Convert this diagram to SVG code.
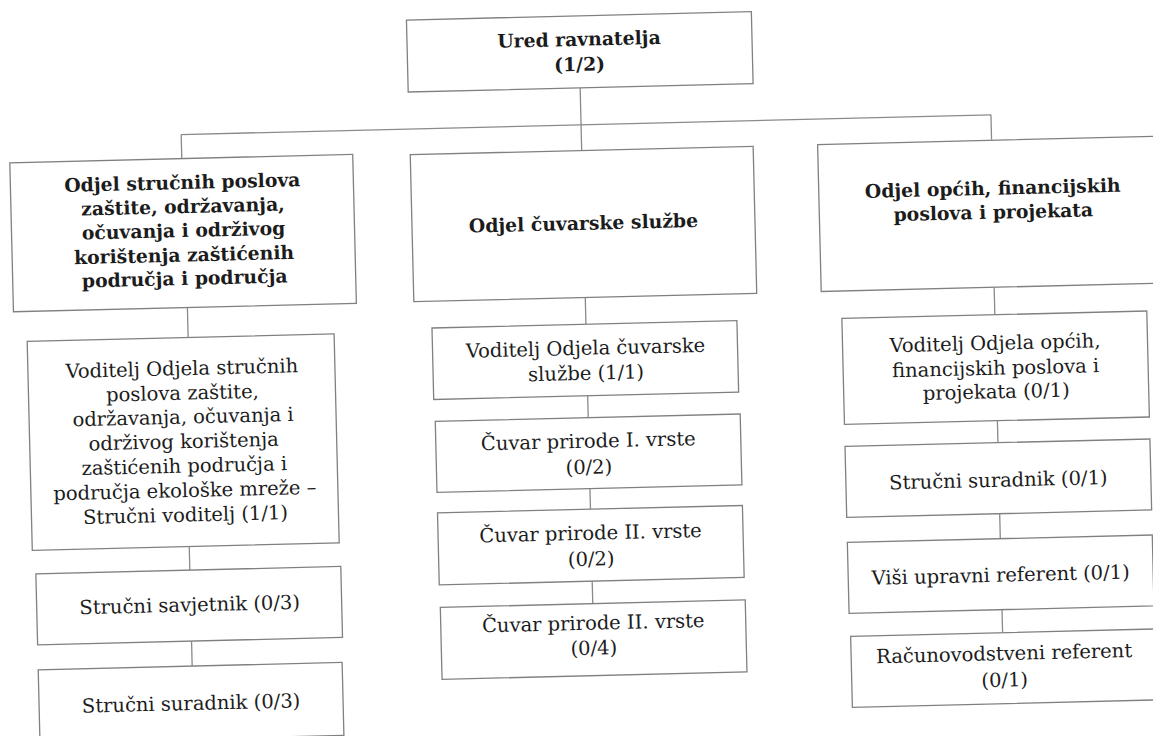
<svg xmlns="http://www.w3.org/2000/svg" width="1153" height="736" viewBox="0 0 1153 736">
<style>
.box{fill:#ffffff;stroke:#808080;stroke-width:1.3}
.ln{stroke:#8a8a8a;stroke-width:1.3;fill:none}
.t{font-family:"DejaVu Serif","Liberation Serif",serif;font-size:19.5px;fill:#1c1c1c;text-anchor:middle}
.b{font-weight:bold;font-size:18.8px}
</style>
<rect width="1153" height="736" fill="#ffffff"/>
<g transform="rotate(-1.4 576 368)">
<g id="connectors">
<line class="ln" x1="587" y1="88" x2="587" y2="151"/>
<line class="ln" x1="187" y1="125" x2="997" y2="125"/>
<line class="ln" x1="187" y1="125" x2="187" y2="149"/>
<line class="ln" x1="997" y1="125" x2="997" y2="150"/>
<line class="ln" x1="189" y1="298" x2="189" y2="328"/>
<line class="ln" x1="185" y1="537" x2="185" y2="561"/>
<line class="ln" x1="185" y1="632" x2="185" y2="657"/>
<line class="ln" x1="587" y1="298" x2="587" y2="324.5"/>
<line class="ln" x1="587" y1="396" x2="587" y2="418"/>
<line class="ln" x1="587" y1="489" x2="587" y2="509.5"/>
<line class="ln" x1="587" y1="581.5" x2="587" y2="604"/>
<line class="ln" x1="996" y1="297.5" x2="996" y2="325"/>
<line class="ln" x1="996" y1="431" x2="996" y2="453"/>
<line class="ln" x1="996" y1="524" x2="996" y2="549"/>
<line class="ln" x1="996" y1="620" x2="996" y2="643"/>
</g>
<g id="ured">
<rect class="box" x="415" y="16" width="345" height="72"/>
<text class="t b" x="587" y="46">Ured ravnatelja</text>
<text class="t b" x="587" y="71">(1/2)</text>
</g>
<g id="odjel-strucnih">
<rect class="box" x="15" y="149" width="343" height="149"/>
<text class="t b" x="187" y="179.5">Odjel stručnih poslova</text>
<text class="t b" x="187" y="203.5">zaštite, održavanja,</text>
<text class="t b" x="187" y="227.5">očuvanja i održivog</text>
<text class="t b" x="187" y="252">korištenja zaštićenih</text>
<text class="t b" x="187" y="275.5">područja i područja</text>
</g>
<g id="odjel-cuvarske">
<rect class="box" x="415.5" y="150.7" width="343" height="147"/>
<text class="t b" x="587" y="230">Odjel čuvarske službe</text>
</g>
<g id="odjel-opcih">
<rect class="box" x="823" y="150.5" width="348" height="147"/>
<text class="t b" x="997" y="205">Odjel općih, financijskih</text>
<text class="t b" x="997" y="229">poslova  i projekata</text>
</g>
<g id="voditelj-strucnih">
<rect class="box" x="28" y="328" width="307" height="209"/>
<text class="t" x="182" y="365.5">Voditelj Odjela stručnih</text>
<text class="t" x="182" y="390">poslova zaštite,</text>
<text class="t" x="182" y="414">održavanja, očuvanja i</text>
<text class="t" x="182" y="438.5">održivog korištenja</text>
<text class="t" x="182" y="463">zaštićenih područja i</text>
<text class="t" x="182" y="487.5">područja ekološke mreže –</text>
<text class="t" x="182" y="512">Stručni voditelj (1/1)</text>
</g>
<g id="strucni-savjetnik">
<rect class="box" x="31" y="560.6" width="305" height="71"/>
<text class="t" x="184" y="602">Stručni savjetnik (0/3)</text>
</g>
<g id="strucni-suradnik-1">
<rect class="box" x="31" y="656.6" width="304" height="73"/>
<text class="t" x="183" y="700.5">Stručni suradnik (0/3)</text>
</g>
<g id="voditelj-cuvarske">
<rect class="box" x="433" y="324.5" width="305" height="71.5"/>
<text class="t" x="586" y="355">Voditelj Odjela čuvarske</text>
<text class="t" x="586" y="380">službe (1/1)</text>
</g>
<g id="cuvar-1">
<rect class="box" x="434" y="418" width="305" height="71"/>
<text class="t" x="586.5" y="448">Čuvar prirode I. vrste</text>
<text class="t" x="586.5" y="474">(0/2)</text>
</g>
<g id="cuvar-2a">
<rect class="box" x="434" y="509.5" width="305" height="72"/>
<text class="t" x="586.5" y="540">Čuvar prirode II. vrste</text>
<text class="t" x="586.5" y="566">(0/2)</text>
</g>
<g id="cuvar-2b">
<rect class="box" x="434.5" y="604" width="305" height="72"/>
<text class="t" x="587" y="630">Čuvar prirode II. vrste</text>
<text class="t" x="587" y="655">(0/4)</text>
</g>
<g id="voditelj-opcih">
<rect class="box" x="843" y="325" width="305" height="106"/>
<text class="t" x="995.5" y="360">Voditelj Odjela općih,</text>
<text class="t" x="995.5" y="385">financijskih poslova i</text>
<text class="t" x="995.5" y="408.5">projekata (0/1)</text>
</g>
<g id="strucni-suradnik-2">
<rect class="box" x="843" y="453" width="305" height="71"/>
<text class="t" x="995.5" y="497">Stručni suradnik (0/1)</text>
</g>
<g id="visi-upravni">
<rect class="box" x="843" y="549" width="305" height="71"/>
<text class="t" x="995.5" y="592">Viši upravni referent (0/1)</text>
</g>
<g id="racunovodstveni">
<rect class="box" x="844" y="643" width="310" height="71"/>
<text class="t" x="997" y="670.5">Računovodstveni referent</text>
<text class="t" x="997" y="697">(0/1)</text>
</g>
</g>
</svg>
